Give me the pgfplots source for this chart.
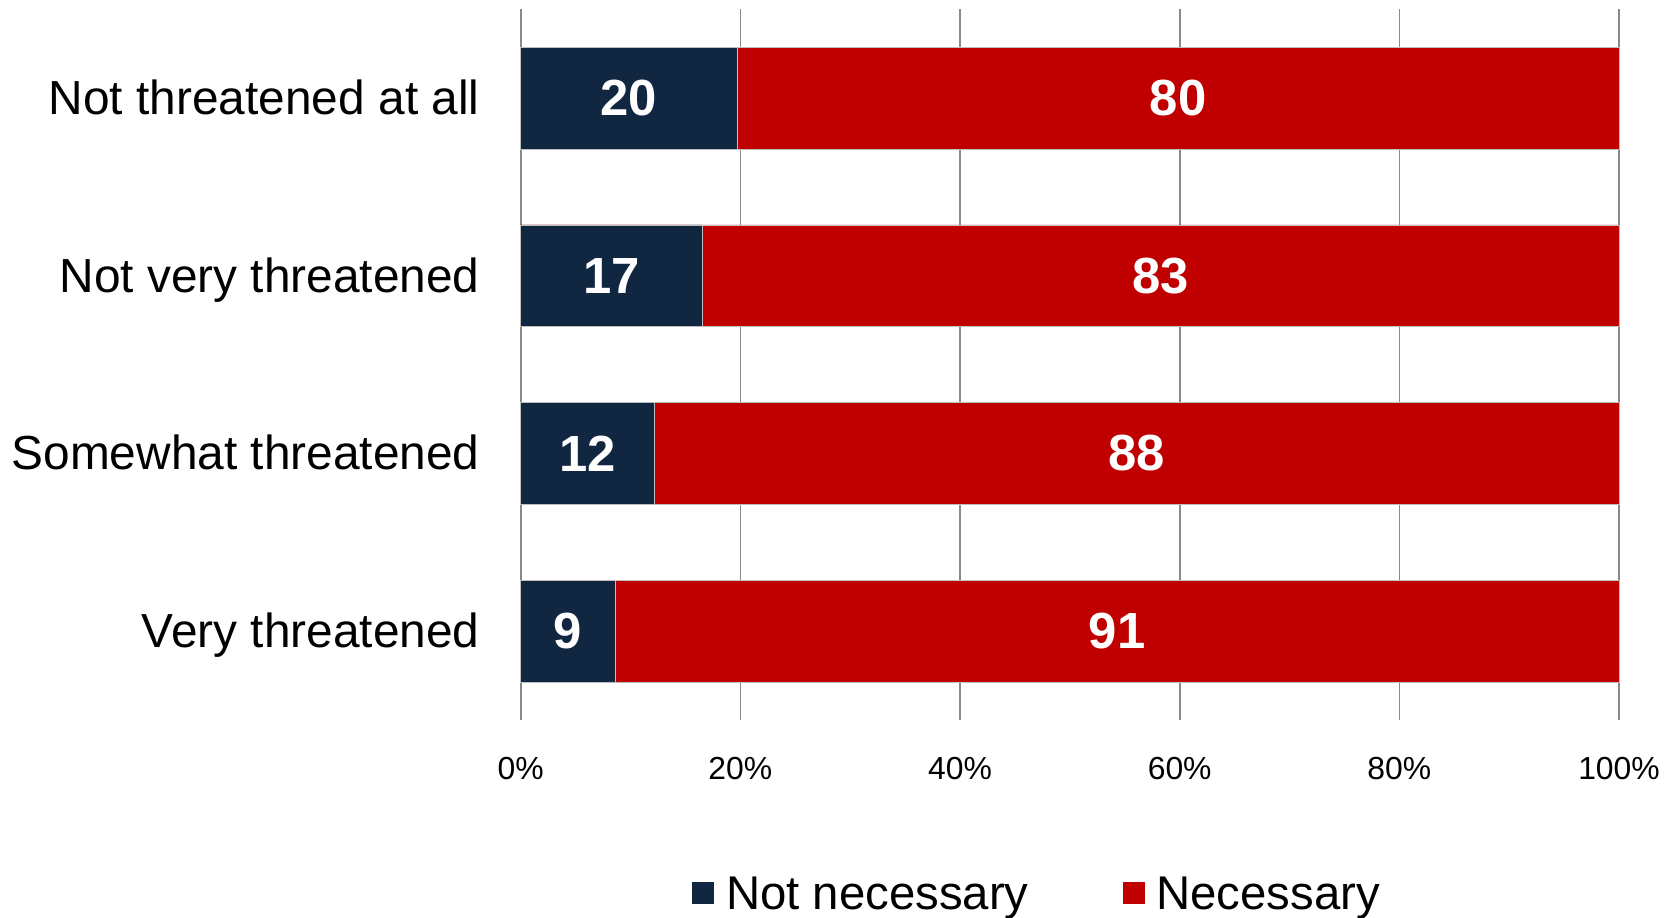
\documentclass[border=0pt]{standalone}
\usepackage{pgfplots}
\pgfplotsset{compat=1.18}
\usepackage{pgfplotstable}
\usepackage{fontspec}
\setmainfont{Liberation Sans}
\definecolor{navy}{RGB}{17,38,65}
\definecolor{barred}{RGB}{192,0,0}
\definecolor{gridgray}{RGB}{137,137,137}
\definecolor{edgegray}{RGB}{190,190,190}

\pgfplotstableread{
y nn total
0 19.7 100
1 16.5 100
2 12.2 100
3 8.6 100
}\bars
\pgfplotstableread{
y x lab
0 9.85 20
1 8.25 17
2 6.1 12
3 4.3 9
0 59.85 80
1 58.25 83
2 56.1 88
3 54.3 91
}\labs

\begin{document}
\begin{tikzpicture}[x=1bp,y=1bp]
\useasboundingbox (0,0) rectangle (1674,917);
\begin{axis}[
 at={(520.7bp,197bp)}, anchor=south west,
 scale only axis, width=1098.3bp, height=710.7bp,
 xmin=0, xmax=100, ymin=-0.5, ymax=3.5, y dir=reverse,
 axis line style={draw=none},
 major tick length=0pt,
 xtick={0,20,40,60,80,100},
 xticklabels={0\%,20\%,40\%,60\%,80\%,100\%},
 ytick={0,1,2,3},
 yticklabels={Not threatened at all, Not very threatened, Somewhat threatened, Very threatened},
 xmajorgrids, grid style={draw=gridgray, line width=1.6bp},
 xticklabel style={font=\fontsize{32}{38}\selectfont, anchor=base, inner sep=0pt, yshift=-59bp},
 yticklabel style={font=\fontsize{48}{56}\selectfont, anchor=base east, inner sep=0pt, xshift=-41bp, yshift=-16.5bp},
 bar width=0.572,
 clip=false,
 legend columns=2,
 legend style={at={(0.1558,-0.2204)}, anchor=north west, draw=none, fill=none, inner sep=0pt,
   font=\fontsize{47.5}{56}\selectfont, nodes={inner sep=0pt},
   /tikz/every odd column/.append style={column sep=12bp},
   /tikz/every even column/.append style={column sep=94bp}},
 legend image code/.code={\fill[#1] (0bp,-10.6bp) rectangle (22bp,11.4bp);},
]
\addplot[xbar, bar shift=0pt, fill=barred, draw=edgegray, line width=0.8bp, forget plot] table[x=total, y=y] {\bars};
\addplot[xbar, bar shift=0pt, fill=navy, draw=edgegray, line width=0.8bp, forget plot] table[x=nn, y=y] {\bars};
\addplot[draw=none, mark=none, forget plot, nodes near coords, point meta=explicit symbolic,
  nodes near coords style={anchor=center, inner sep=0pt, text=white, font=\fontsize{51}{51}\selectfont\bfseries}]
  table[x=x, y=y, meta=lab] {\labs};
\addlegendimage{fill=navy, draw=none}
\addlegendentry{Not necessary}
\addlegendimage{fill=barred, draw=none}
\addlegendentry{Necessary}
\end{axis}
\end{tikzpicture}
\end{document}
